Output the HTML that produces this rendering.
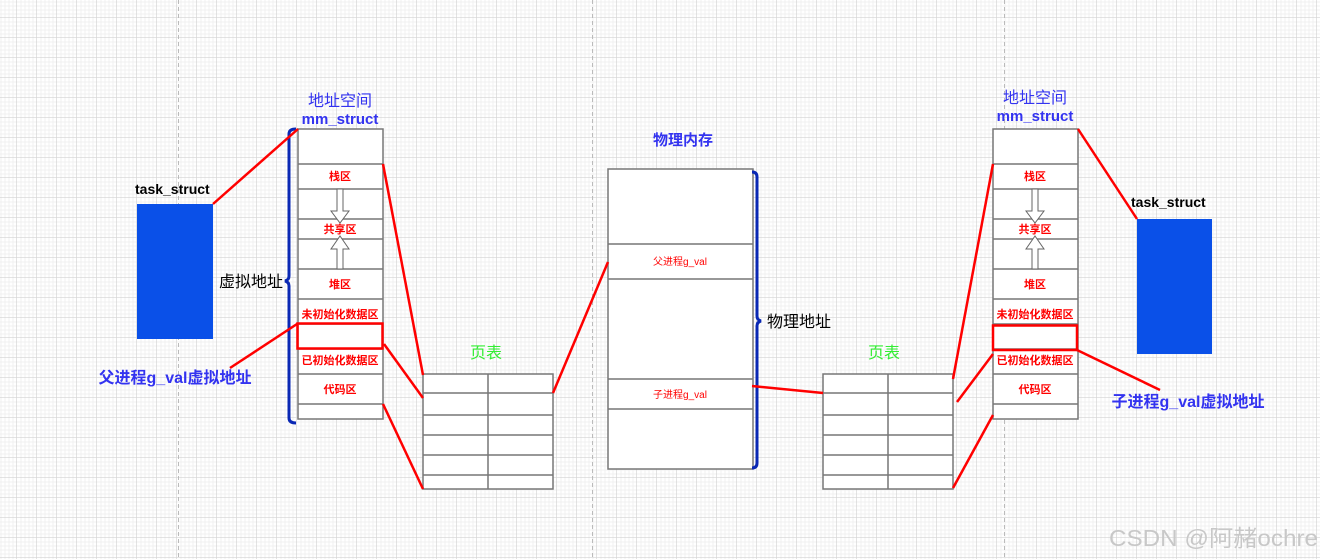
<!DOCTYPE html>
<html><head><meta charset="utf-8"><style>
html,body{margin:0;padding:0;width:1320px;height:559px;overflow:hidden;background:#fff}
svg{display:block}
text{font-family:"Liberation Sans","Noto Sans CJK SC",sans-serif}
</style></head><body>
<svg width="1320" height="559" viewBox="0 0 1320 559" xmlns="http://www.w3.org/2000/svg">
<defs>
<pattern id="g" x="-3" y="-2" width="20" height="20" patternUnits="userSpaceOnUse">
<path d="M4 0V20M8 0V20M12 0V20M16 0V20M0 4H20M0 8H20M0 12H20M0 16H20" stroke="#f0f0f0" stroke-width="1" fill="none"/>
<path d="M20 0V20M0 20H20" stroke="#d4d4d4" stroke-width="1.3" fill="none"/>
</pattern>
</defs>
<rect width="1320" height="559" fill="url(#g)"/>
<g stroke="#bbb" stroke-dasharray="4,3" stroke-width="1">
<line x1="178.5" y1="0" x2="178.5" y2="559"/><line x1="592.5" y1="0" x2="592.5" y2="559"/><line x1="1004.5" y1="0" x2="1004.5" y2="559"/>
</g>

<rect x="137" y="204" width="76" height="135" fill="#0a50e8"/>
<text x="135" y="194" font-size="14" font-weight="bold" fill="#000">task_struct</text>
<rect x="1137" y="219" width="75" height="135" fill="#0a50e8"/>
<text x="1131" y="207" font-size="14" font-weight="bold" fill="#000">task_struct</text>

<g fill="#fff" stroke="#777" stroke-width="1.5">
<rect x="298" y="129" width="85" height="290"/>
<rect x="993" y="129" width="85" height="290"/>
<rect x="608" y="169" width="145" height="300"/>
<rect x="423" y="374" width="130" height="115"/>
<rect x="823" y="374" width="130" height="115"/>
</g>
<g stroke="#777" stroke-width="1.5">
<path d="M298 164H383M298 189H383M298 219H383M298 239H383M298 269H383M298 299H383M298 324H383M298 349H383M298 374H383M298 404H383"/>
<path d="M993 164H1078M993 189H1078M993 219H1078M993 239H1078M993 269H1078M993 299H1078M993 324H1078M993 349H1078M993 374H1078M993 404H1078"/>
<path d="M608 244H753M608 279H753M608 379H753M608 409H753"/>
<path d="M423 393H553M423 415H553M423 435H553M423 455H553M423 475H553M488 374V489"/>
<path d="M823 393H953M823 415H953M823 435H953M823 455H953M823 475H953M888 374V489"/>
</g>
<g fill="#fff" stroke="#666" stroke-width="1">
<polygon points="337,189 343,189 343,211 349,211 340,223 331,211 337,211"/>
<polygon points="337,269 343,269 343,249 349,249 340,236 331,249 337,249"/>
<polygon points="1032,189 1038,189 1038,211 1044,211 1035,223 1026,211 1032,211"/>
<polygon points="1032,269 1038,269 1038,249 1044,249 1035,236 1026,249 1032,249"/>
</g>
<g font-size="11" fill="#f00" text-anchor="middle" font-weight="bold">
<text x="340" y="180">栈区</text><text x="340" y="233">共享区</text><text x="340" y="288">堆区</text>
<text x="340" y="318">未初始化数据区</text><text x="340" y="364">已初始化数据区</text><text x="340" y="393">代码区</text>
<text x="1035" y="180">栈区</text><text x="1035" y="233">共享区</text><text x="1035" y="288">堆区</text>
<text x="1035" y="318">未初始化数据区</text><text x="1035" y="364">已初始化数据区</text><text x="1035" y="393">代码区</text>
</g>
<g font-size="10" fill="#f00" text-anchor="middle">
<text x="680" y="265">父进程g_val</text><text x="680" y="398">子进程g_val</text>
</g>
<rect x="297.5" y="323.5" width="85" height="25" fill="none" stroke="#f00" stroke-width="2.5"/>
<rect x="993" y="325.5" width="84" height="24.5" fill="none" stroke="#f00" stroke-width="2.5"/>
<g fill="none" stroke="#0a28b4" stroke-width="3">
<path d="M296 129Q289 129 289 134V276Q289 280 285 281Q289 282 289 286V418Q289 423 296 423"/>
<path d="M752 172Q757 172 757 177V316Q757 320 761 321Q757 322 757 326V463Q757 468 752 468"/>
</g>
<g stroke="#f00" stroke-width="2.5" fill="none">
<line x1="213" y1="204" x2="298" y2="129"/>
<line x1="230" y1="368" x2="297" y2="324"/>
<line x1="383" y1="164" x2="423" y2="375"/>
<line x1="384" y1="344" x2="423" y2="398"/>
<line x1="383" y1="404" x2="423" y2="489"/>
<line x1="553" y1="393" x2="608" y2="262"/>
<line x1="752" y1="386" x2="823" y2="393"/>
<line x1="953" y1="379" x2="993" y2="164"/>
<line x1="957" y1="402" x2="993" y2="354"/>
<line x1="953" y1="488" x2="993" y2="415"/>
<line x1="1078" y1="129" x2="1137" y2="219"/>
<line x1="1077" y1="350" x2="1160" y2="390"/>
</g>
<g fill="#3333f0">
<text x="340" y="106" font-size="16" text-anchor="middle">地址空间</text>
<text x="340" y="124" font-size="15" font-weight="bold" text-anchor="middle">mm_struct</text>
<text x="1035" y="103" font-size="16" text-anchor="middle">地址空间</text>
<text x="1035" y="121" font-size="15" font-weight="bold" text-anchor="middle">mm_struct</text>
<text x="683" y="145" font-size="15" font-weight="bold" text-anchor="middle">物理内存</text>
<text x="175" y="383" font-size="16" font-weight="bold" text-anchor="middle">父进程g_val虚拟地址</text>
<text x="1188" y="407" font-size="16" font-weight="bold" text-anchor="middle">子进程g_val虚拟地址</text>
</g>
<g fill="#33ee33" font-size="16" text-anchor="middle">
<text x="486" y="358">页表</text><text x="884" y="358">页表</text>
</g>
<text x="219" y="287" font-size="16" fill="#000">虚拟地址</text>
<text x="767" y="327" font-size="16" fill="#000">物理地址</text>
<text x="1109" y="546" font-size="23" fill="#c8c8c8" textLength="209" lengthAdjust="spacingAndGlyphs">CSDN @阿赭ochre</text>
</svg>
</body></html>
